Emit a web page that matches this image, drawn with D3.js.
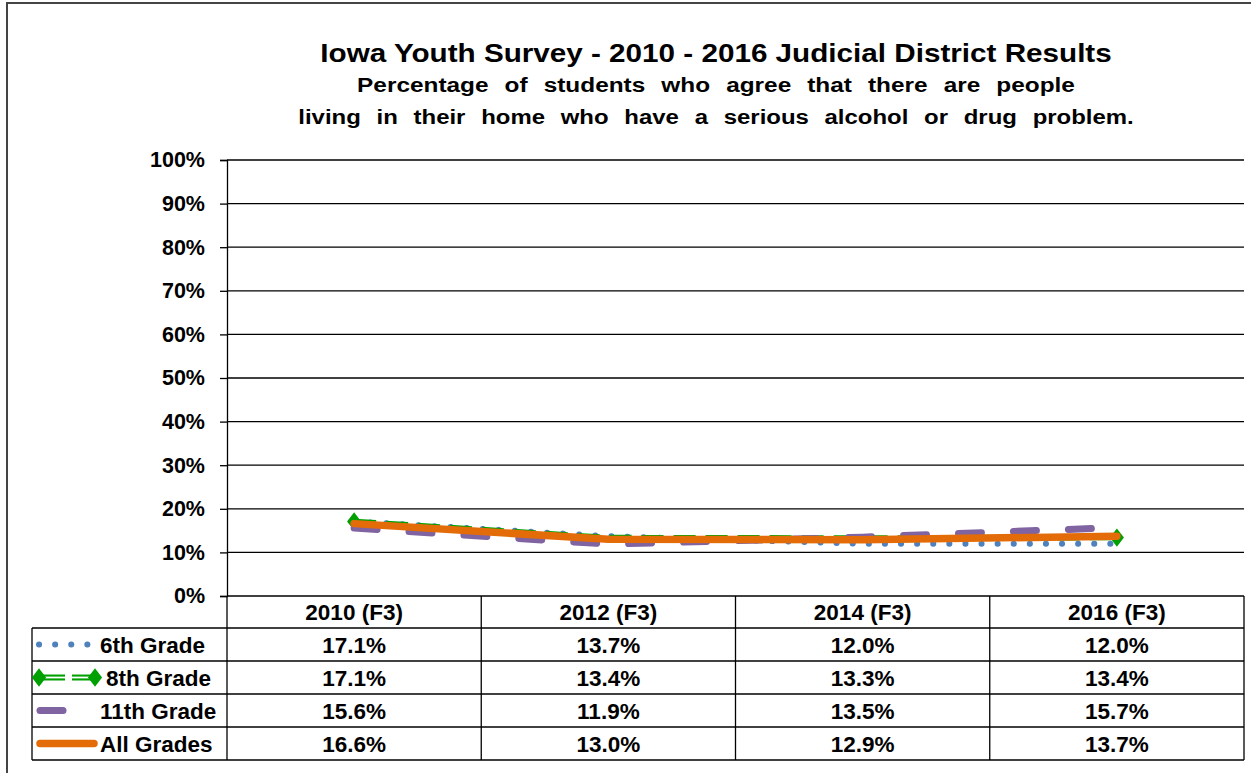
<!DOCTYPE html>
<html>
<head>
<meta charset="utf-8">
<script src="https://cdn.jsdelivr.net/npm/d3@7"></script>
<style>
  body { margin: 0; background: #fff; }
  svg { display: block; }
</style>
</head>
<body>
<div id="chart"></div>
<script>
const years = ["2010 (F3)", "2012 (F3)", "2014 (F3)", "2016 (F3)"];
const seriesNames = ["6th Grade", "8th Grade", "11th Grade", "All Grades"];
const grade6 = [17.1, 13.7, 12.0, 12.0];
const grade8 = [17.1, 13.4, 13.3, 13.4];
const grade11 = [15.6, 11.9, 13.5, 15.7];
const allGrades = [16.6, 13.0, 12.9, 13.7];
const yTicks = [0, 10, 20, 30, 40, 50, 60, 70, 80, 90, 100];
const titleLines = [
    "Iowa Youth Survey - 2010 - 2016 Judicial District Results",
    "Percentage of students who agree that there are people",
    "living in their home who have a serious alcohol or drug problem."
];

const width = 1251, height = 773;
const font = "'Liberation Sans', Arial, sans-serif";
const margin = { left: 227, right: 1244, top: 160, bottom: 596 };
const rowH = 33, headH = 32, tableLeft = 32;
const tableFont = 22.5;

const series = [
    { name: seriesNames[0], values: grade6, color: "#4F81BD" },
    { name: seriesNames[1], values: grade8, color: "#00A000" },
    { name: seriesNames[2], values: grade11, color: "#8064A2" },
    { name: seriesNames[3], values: allGrades, color: "#E36C09" }
];

const svg = d3.select("#chart").append("svg")
    .attr("width", width)
    .attr("height", height);

// outer frame (only left/top visible in the crop)
svg.append("rect")
    .attr("x", 7).attr("y", 3)
    .attr("width", 1300).attr("height", 900)
    .attr("fill", "none")
    .attr("stroke", "#444")
    .attr("stroke-width", 2);

const x = d3.scaleBand().domain(years).range([margin.left, margin.right]);
const y = d3.scaleLinear().domain([0, 100]).range([margin.bottom, margin.top]);

// titles
const titleSizes = [26, 21, 21];
const titleY = [62, 92, 124];
const titleW = [792, 718, 836];
const wordGap = [0, 8, 8];
const titles = svg.append("g").selectAll("text")
    .data(titleLines)
    .join("text")
    .attr("x", 0)
    .attr("text-anchor", "middle")
    .attr("font-family", font)
    .attr("font-weight", "bold")
    .attr("font-size", (d, i) => titleSizes[i])
    .attr("word-spacing", (d, i) => wordGap[i])
    .text(d => d);

// stretch / squeeze each line horizontally to the original's width
titles.each(function(d, i) {
    const natural = this.getBBox().width;
    const sx = titleW[i] / natural;
    d3.select(this).attr("transform", `translate(716,${titleY[i]}) scale(${sx},1)`);
});

// gridlines
svg.append("g").selectAll("line")
    .data(yTicks.filter(t => t > 0))
    .join("line")
    .attr("x1", margin.left).attr("x2", margin.right)
    .attr("y1", d => y(d)).attr("y2", d => y(d))
    .attr("stroke", "#000")
    .attr("stroke-width", 1.3);

// y axis
const yAxis = svg.append("g")
    .attr("transform", `translate(${margin.left},0)`)
    .call(d3.axisLeft(y).tickValues(yTicks).tickSize(7).tickPadding(15).tickFormat(d => d + "%"));
yAxis.select(".domain").attr("stroke", "#000").attr("stroke-width", 1.3);
yAxis.selectAll(".tick line").attr("stroke", "#000").attr("stroke-width", 1.3);
yAxis.selectAll(".tick text")
    .attr("font-family", font)
    .attr("font-weight", "bold")
    .attr("font-size", 21.5)
    .attr("fill", "#000");

// data table
const table = svg.append("g");
const tableBottom = margin.bottom + headH + rowH * series.length;
const hLines = [margin.bottom + headH].concat(series.map((s, i) => margin.bottom + headH + rowH * (i + 1)));
table.selectAll("line.h")
    .data(hLines)
    .join("line")
    .attr("class", "h")
    .attr("x1", tableLeft).attr("x2", margin.right)
    .attr("y1", d => d).attr("y2", d => d)
    .attr("stroke", "#000").attr("stroke-width", 1.3);
table.append("line")
    .attr("x1", margin.left).attr("x2", margin.right)
    .attr("y1", margin.bottom).attr("y2", margin.bottom)
    .attr("stroke", "#000").attr("stroke-width", 1.3);
const vLines = years.map(yr => x(yr)).concat([margin.right]);
table.selectAll("line.v")
    .data(vLines)
    .join("line")
    .attr("class", "v")
    .attr("x1", d => d).attr("x2", d => d)
    .attr("y1", margin.bottom).attr("y2", tableBottom)
    .attr("stroke", "#000").attr("stroke-width", 1.3);
table.append("line")
    .attr("x1", tableLeft).attr("x2", tableLeft)
    .attr("y1", margin.bottom + headH).attr("y2", tableBottom)
    .attr("stroke", "#000").attr("stroke-width", 1.3);

// header labels
table.selectAll("text.head")
    .data(years)
    .join("text")
    .attr("class", "head")
    .attr("x", d => x(d) + x.bandwidth() / 2)
    .attr("y", margin.bottom + headH / 2 + 8)
    .attr("text-anchor", "middle")
    .attr("font-family", font).attr("font-weight", "bold").attr("font-size", tableFont)
    .text(d => d);

// values + row names
series.forEach((s, i) => {
    const rowY = margin.bottom + headH + rowH * i;
    table.append("g").selectAll("text")
        .data(s.values)
        .join("text")
        .attr("x", (d, j) => x(years[j]) + x.bandwidth() / 2)
        .attr("y", rowY + rowH / 2 + 8)
        .attr("text-anchor", "middle")
        .attr("font-family", font).attr("font-weight", "bold").attr("font-size", tableFont)
        .text(d => d.toFixed(1) + "%");
    table.append("text")
        .attr("x", i === 1 ? 106 : 100)
        .attr("y", rowY + rowH / 2 + 8)
        .attr("font-family", font).attr("font-weight", "bold").attr("font-size", tableFont)
        .text(s.name);
});

// line styles
function styleLine(sel, i) {
    const c = series[i].color;
    if (i === 0) {
        sel.attr("stroke", c).attr("stroke-width", 6)
            .attr("stroke-linecap", "round").attr("stroke-dasharray", "0.1 16");
    } else if (i === 1) {
        sel.attr("stroke", c).attr("stroke-width", 5.5)
            .attr("stroke-dasharray", "22 10");
    } else if (i === 2) {
        sel.attr("stroke", c).attr("stroke-width", 7)
            .attr("stroke-linecap", "round").attr("stroke-dasharray", "23 32");
    } else {
        sel.attr("stroke", c).attr("stroke-width", 7.5).attr("stroke-linecap", "round");
    }
    sel.attr("fill", "none");
}

const line = d3.line()
    .x((d, j) => x(years[j]) + x.bandwidth() / 2)
    .y(d => y(d));

const diamond = d3.symbol().type(d3.symbolDiamond).size(120);

series.forEach((s, i) => {
    const g = svg.append("g");
    styleLine(g.append("path").attr("d", line(s.values)), i);
    if (i === 1) {
        g.append("path").attr("d", line(s.values))
            .attr("fill", "none").attr("stroke", "#fff")
            .attr("stroke-width", 1.6).attr("stroke-dasharray", "22 10");
        const ends = [0, s.values.length - 1];
        g.selectAll("path.end")
            .data(ends)
            .join("path")
            .attr("class", "end")
            .attr("d", diamond)
            .attr("transform", j => `translate(${x(years[j]) + x.bandwidth() / 2},${y(s.values[j])}) scale(1.2,0.9)`)
            .attr("fill", s.color);
    }

    // legend key in the table
    const ky = margin.bottom + headH + rowH * i + rowH / 2;
    const lg = svg.append("g");
    if (i === 0) {
        styleLine(lg.append("line").attr("x1", 39).attr("x2", 90).attr("y1", ky).attr("y2", ky), i);
    } else if (i === 1) {
        [[42, 65], [72, 92]].forEach(seg => {
            lg.append("line").attr("x1", seg[0]).attr("x2", seg[1]).attr("y1", ky).attr("y2", ky)
                .attr("stroke", s.color).attr("stroke-width", 6);
            lg.append("line").attr("x1", seg[0]).attr("x2", seg[1]).attr("y1", ky).attr("y2", ky)
                .attr("stroke", "#fff").attr("stroke-width", 1.8);
        });
        lg.selectAll("path")
            .data([39, 95])
            .join("path")
            .attr("d", diamond)
            .attr("transform", d => `translate(${d},${ky}) scale(1.2,0.9)`)
            .attr("fill", s.color);
    } else if (i === 2) {
        styleLine(lg.append("line").attr("x1", 40).attr("x2", 63).attr("y1", ky).attr("y2", ky), i);
    } else {
        styleLine(lg.append("line").attr("x1", 40).attr("x2", 94).attr("y1", ky).attr("y2", ky), i);
    }
});
</script>
</body>
</html>
